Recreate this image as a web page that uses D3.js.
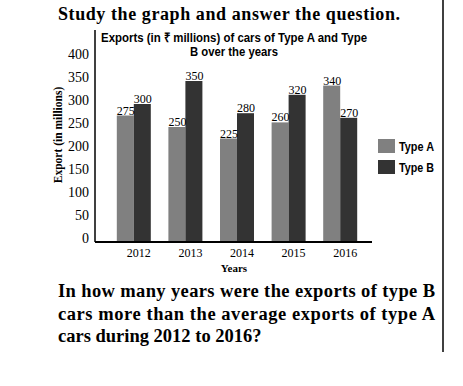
<!DOCTYPE html>
<html>
<head>
<meta charset="utf-8">
<script src="https://cdn.jsdelivr.net/npm/d3@7"></script>
<style>
  body { margin: 0; background: #fff; }
  .serif { font-family: "Liberation Serif", "Times New Roman", serif; }
  .narrow { font-family: "Liberation Sans Narrow", "Arial Narrow", "Liberation Sans", sans-serif; }
</style>
</head>
<body>
<svg width="463" height="386"></svg>
<script>
// chart data
var years = ['2012', '2013', '2014', '2015', '2016'];
var typeA = [275, 250, 225, 260, 340];
var typeB = [300, 350, 280, 320, 270];
var seriesNames = ['Type A', 'Type B'];
var seriesColors = ['#808080', '#333333'];
var yTicks = [0, 50, 100, 150, 200, 250, 300, 350, 400];
var questionLines = [
    'In how many years were the exports of type B',
    'cars more than the average exports of type A',
    'cars during 2012 to 2016?'
];

var svg = d3.select('svg');

// scales
var y = d3.scaleLinear().domain([0, 400]).range([242, 58]);
var x = d3.scaleBand().domain(years).range([108, 366]).padding(0);
var sub = d3.scaleBand().domain(seriesNames).range([-17, 17]).padding(0);

// heading
svg.append('text')
    .attr('class', 'serif')
    .attr('x', 58).attr('y', 20)
    .attr('font-size', 18).attr('font-weight', 'bold')
    .attr('textLength', 342).attr('lengthAdjust', 'spacing')
    .text('Study the graph and answer the question.');

// right border line
svg.append('line')
    .attr('x1', 443).attr('x2', 443)
    .attr('y1', 0).attr('y2', 352)
    .attr('stroke', '#000').attr('stroke-width', 1.5);

// chart title
svg.append('text')
    .attr('class', 'narrow')
    .attr('x', 101).attr('y', 42)
    .attr('font-size', 13).attr('font-weight', 'bold')
    .attr('textLength', 266).attr('lengthAdjust', 'spacingAndGlyphs')
    .text('Exports (in \u20B9 millions) of cars of Type A and Type');
svg.append('text')
    .attr('class', 'narrow')
    .attr('x', 190).attr('y', 56)
    .attr('font-size', 13).attr('font-weight', 'bold')
    .attr('textLength', 88).attr('lengthAdjust', 'spacingAndGlyphs')
    .text('B over the years');

// y tick labels
svg.selectAll('.ytick')
    .data(yTicks)
    .enter().append('text')
    .attr('class', 'ytick serif')
    .attr('x', 89)
    .attr('y', d => y(d) - 4)
    .attr('dy', '0.35em')
    .attr('text-anchor', 'end')
    .attr('font-size', 14)
    .text(d => d);

// y axis title
svg.append('text')
    .attr('class', 'serif')
    .attr('transform', 'translate(62,135) rotate(-90)')
    .attr('text-anchor', 'middle')
    .attr('font-size', 11.5).attr('font-weight', 'bold')
    .text('Export (in millions)');

// bars
var groups = svg.selectAll('.year')
    .data(years)
    .enter().append('g')
    .attr('class', 'year')
    .attr('transform', d => `translate(${x(d) + x.bandwidth() / 2}, 0)`);

groups.each(function(yr, i) {
    var vals = [typeA[i], typeB[i]];
    var g = d3.select(this);
    g.selectAll('rect')
        .data(vals)
        .enter().append('rect')
        .attr('x', (d, j) => sub(seriesNames[j]))
        .attr('y', d => y(d))
        .attr('width', sub.bandwidth())
        .attr('height', d => y(0) - y(d))
        .attr('fill', (d, j) => seriesColors[j]);
    g.selectAll('.val')
        .data(vals)
        .enter().append('text')
        .attr('class', 'val serif')
        .attr('x', (d, j) => sub(seriesNames[j]))
        .attr('y', d => y(d) - 1)
        .attr('font-size', 12)
        .text(d => d);
});

// axes lines
svg.append('line')
    .attr('x1', 95).attr('x2', 95)
    .attr('y1', 30).attr('y2', 242)
    .attr('stroke', '#000').attr('stroke-width', 1.5);
svg.append('line')
    .attr('x1', 95).attr('x2', 372)
    .attr('y1', 242).attr('y2', 242)
    .attr('stroke', '#000').attr('stroke-width', 2);

// x tick labels
svg.selectAll('.xtick')
    .data(years)
    .enter().append('text')
    .attr('class', 'xtick serif')
    .attr('x', d => x(d) + x.bandwidth() / 2 + 5)
    .attr('y', 257)
    .attr('text-anchor', 'middle')
    .attr('font-size', 12)
    .text(d => d);

svg.append('text')
    .attr('class', 'serif')
    .attr('x', 234).attr('y', 272)
    .attr('text-anchor', 'middle')
    .attr('font-size', 11).attr('font-weight', 'bold')
    .text('Years');

// legend
var legend = svg.selectAll('.legend')
    .data(seriesNames)
    .enter().append('g')
    .attr('class', 'legend')
    .attr('transform', (d, i) => `translate(378, ${139 + i * 21})`);
legend.append('rect')
    .attr('width', 17).attr('height', 14)
    .attr('fill', (d, i) => seriesColors[i]);
legend.append('text')
    .attr('class', 'narrow')
    .attr('x', 21).attr('y', 11.5)
    .attr('font-size', 13).attr('font-weight', 'bold')
    .attr('textLength', 35).attr('lengthAdjust', 'spacingAndGlyphs')
    .text(d => d);

// question
svg.selectAll('.q')
    .data(questionLines)
    .enter().append('text')
    .attr('class', 'q serif')
    .attr('x', 58)
    .attr('y', (d, i) => [297, 320, 342][i])
    .attr('font-size', 18.5).attr('font-weight', 'bold')
    .each(function(d, i) {
        if (i < 2) d3.select(this).attr('textLength', 377).attr('lengthAdjust', 'spacing');
    })
    .text(d => d);
</script>
</body>
</html>
